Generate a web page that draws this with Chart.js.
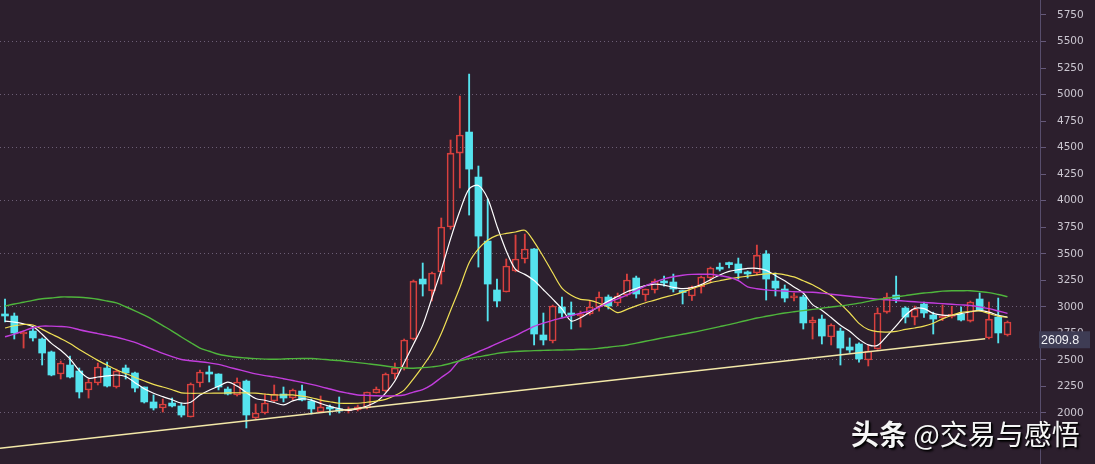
<!DOCTYPE html>
<html><head><meta charset="utf-8">
<script src="https://cdn.jsdelivr.net/npm/chart.js@4.4.1/dist/chart.umd.min.js"></script>
<style>
html,body{margin:0;padding:0;background:#2c1f2d;overflow:hidden;}
#wrap{position:relative;width:1095px;height:464px;}
canvas{display:block;}
#wm{position:absolute;left:851px;top:415px;font-family:"Noto Sans CJK SC";font-size:28px;line-height:36px;color:#f6f6f6;white-space:nowrap;
text-shadow:1px 1px 1px #000,2px 2px 2px rgba(0,0,0,.85);}
#wm b{font-weight:700}
</style></head>
<body><div id="wrap"><canvas id="c" width="1095" height="464"></canvas><div id="wm"><b>头条</b> @交易与感悟</div></div>
<script>
// Monthly candles, 2011-04 .. 2020-04 (index 0..108)
const opens = [2933,2914,2744,2772,2697,2575,2367,2452,2396,2217,
2283,2424,2245,2424,2377,2245,2104,2047,2094,2066,
1962,2283,2377,2367,2226,2170,2301,1953,2000,2113,
2179,2141,2207,2113,2009,2057,2038,2019,2028,2047,
2188,2207,2367,2424,2697,3262,3150,3328,3752,4449,
4647,4223,3620,3159,3140,3338,3451,3545,2735,2678,
2999,2942,2914,2933,2999,3093,3036,3112,3272,3112,
3159,3243,3234,3145,3102,3187,3272,3370,3408,3404,
3319,3319,3498,3243,3168,3085,3093,2848,2885,2716,
2772,2622,2650,2499,2603,2951,3111,2989,2904,3027,
2923,2895,2910,2933,2866,3074,2707,2904,2735];
const highs = [3074,2942,2772,2810,2707,2584,2490,2537,2424,2320,
2471,2480,2414,2452,2386,2245,2170,2132,2141,2094,
2283,2405,2443,2370,2245,2330,2311,2085,2179,2264,
2245,2226,2264,2132,2160,2075,2151,2057,2075,2198,
2245,2377,2471,2697,3253,3413,3328,3837,4572,4986,
5193,4327,4016,3262,3451,3677,3686,3550,2942,3017,
3093,3046,2960,3055,3140,3112,3130,3309,3290,3168,
3262,3290,3309,3155,3196,3290,3375,3413,3423,3460,
3338,3582,3530,3319,3206,3130,3110,2904,2923,2840,
2800,2707,2660,2640,2990,3130,3290,3001,3008,3046,
2950,3018,3005,2999,3055,3131,3046,3083,2867];
const lows = [2857,2697,2612,2678,2452,2350,2320,2330,2141,2141,
2264,2245,2235,2320,2198,2094,2028,2009,2057,1962,
1962,2245,2292,2217,2170,2160,1859,1945,1990,2104,
2104,2122,2113,1990,2009,1981,2000,2000,2019,2038,
2188,2198,2320,2405,2688,3102,3055,3215,3732,4120,
3865,3375,2867,2999,3140,3330,3413,2641,2641,2660,
2904,2791,2810,2923,2960,2980,3010,3100,3083,3055,
3130,3196,3140,3027,3060,3130,3230,3338,3366,3262,
3272,3300,3064,3102,3046,3055,2791,2697,2650,2641,
2452,2570,2480,2443,2600,2940,3040,2848,2830,2900,
2744,2870,2895,2867,2857,2961,2697,2660,2725];
const closes = [2914,2754,2763,2707,2565,2358,2471,2339,2198,2292,
2433,2254,2396,2377,2235,2104,2047,2085,2066,1981,
2273,2386,2367,2245,2179,2292,1981,2000,2094,2179,
2141,2217,2122,2038,2057,2038,2019,2038,2057,2198,
2226,2367,2424,2688,3243,3215,3319,3752,4449,4619,
4298,3667,3215,3055,3385,3451,3545,2744,2688,3008,
2942,2923,2933,2999,3093,3008,3102,3253,3121,3168,
3243,3225,3168,3135,3187,3281,3366,3355,3398,3319,
3310,3488,3262,3177,3083,3100,2848,2876,2725,2829,
2612,2593,2509,2584,2942,3093,3074,2904,2980,2942,
2885,2910,2930,2876,3046,2970,2885,2754,2857];
// moving-average lines
const ma5 = [2865,2856,2840,2814,2742,2656,2591,2510,2400,2329,
2339,2350,2358,2344,2286,2228,2186,2154,2125,2094,
2101,2169,2215,2252,2291,2254,2193,2137,2120,2099,
2076,2114,2134,2122,2090,2063,2041,2024,2041,2066,
2105,2187,2301,2474,2647,2828,3086,3348,3641,3903,
4111,4144,4021,3761,3527,3352,3306,3248,3161,3073,
2981,2867,2897,2950,3003,3054,3098,3142,3173,3200,
3214,3205,3184,3172,3181,3209,3256,3300,3334,3350,
3362,3363,3344,3295,3246,3188,3130,3021,2968,2899,
2827,2770,2695,2642,2637,2725,2821,2921,2986,2983,
2939,2922,2921,2936,2954,2967,2950,2921,2902];
const ma10 = [2801,2822,2834,2829,2788,2744,2701,2655,2599,2547,
2496,2451,2408,2371,2335,2302,2270,2245,2219,2190,
2186,2186,2186,2187,2189,2191,2189,2187,2179,2170,
2170,2170,2159,2144,2122,2106,2092,2091,2092,2101,
2112,2129,2165,2216,2322,2440,2570,2748,2965,3182,
3416,3546,3627,3673,3692,3705,3721,3613,3472,3321,
3177,3110,3071,3061,3034,2996,2946,2976,3009,3039,
3063,3090,3112,3139,3171,3199,3229,3246,3263,3277,
3290,3302,3310,3315,3302,3282,3246,3209,3158,3107,
3028,2942,2844,2786,2766,2762,2769,2787,2801,2818,
2846,2887,2921,2948,2957,2961,2937,2912,2902];
const ma20 = [2718,2743,2773,2803,2818,2818,2815,2807,2784,2765,
2748,2731,2714,2691,2665,2631,2596,2562,2531,2504,
2492,2483,2472,2458,2434,2412,2390,2368,2352,2340,
2323,2306,2289,2270,2249,2226,2203,2186,2170,2166,
2162,2160,2162,2170,2197,2221,2268,2334,2399,2497,
2537,2577,2613,2654,2691,2729,2774,2816,2847,2873,
2895,2918,2940,2962,2997,3040,3076,3111,3154,3198,
3233,3263,3284,3298,3306,3307,3307,3294,3279,3247,
3189,3171,3160,3153,3149,3143,3140,3137,3129,3119,
3109,3100,3091,3082,3073,3067,3060,3054,3048,3042,
3036,3030,3024,3019,3013,3000,2983,2961,2939];
const ma60 = [3008,3027,3043,3061,3076,3084,3093,3093,3091,3083,
3072,3055,3037,3001,2962,2921,2876,2824,2772,2716,
2663,2612,2582,2553,2537,2525,2518,2512,2508,2506,
2509,2512,2514,2513,2508,2500,2494,2484,2475,2465,
2455,2443,2430,2425,2422,2427,2435,2446,2467,2492,
2514,2530,2544,2562,2573,2579,2584,2588,2590,2592,
2594,2596,2600,2602,2610,2620,2630,2641,2658,2676,
2693,2710,2726,2742,2758,2776,2795,2814,2833,2854,
2874,2895,2911,2927,2942,2954,2965,2976,2987,2999,
3009,3021,3035,3052,3068,3081,3094,3106,3119,3130,
3138,3148,3152,3152,3152,3144,3134,3116,3096];
// support trend line (index, value)
const trendX = [-0.54, 105.6];
const trendY = [1667, 2700];
// price tag
const tagText = '2609.8';
const tagLevel = 2690;
// axis ticks
const yTickStep = 250, yGridStep = 500, yLabelMin = 2000;

const UP = '#d8403e', DOWN = '#55e3ee';
const bodyUp = [], bodyDown = [], wickUpHi = [], wickUpLo = [], wickDown = [];
closes.forEach((c, i) => {
  const o = opens[i];
  if (c >= o) {
    bodyUp.push({x: i, y: [o, c]});
    wickUpHi.push({x: i, y: [c, highs[i]]});
    wickUpLo.push({x: i, y: [lows[i], o]});
  } else {
    bodyDown.push({x: i, y: [c, o]});
    wickDown.push({x: i, y: [lows[i], highs[i]]});
  }
});
const pts = arr => arr.map((v, i) => ({x: i, y: v}));
const wickDs = (data, color) => ({type: 'bar', data, backgroundColor: color, borderWidth: 0, barThickness: 1.2, grouped: false, order: 6});
const lineDs = (arr, color, w) => ({type: 'line', data: pts(arr), borderColor: color, borderWidth: w, pointRadius: 0, tension: 0.3, fill: false, order: 2});

const priceTag = {
  id: 'priceTag',
  afterDraw(chart) {
    const {ctx} = chart, y = chart.scales.y;
    const py = y.getPixelForValue(tagLevel);
    ctx.save();
    ctx.fillStyle = '#3e3c54';
    ctx.fillRect(y.left - 1, py - 8.5, 51, 17);
    ctx.fillStyle = '#f2f2f6';
    ctx.font = '12.5px "Liberation Sans"';
    ctx.textBaseline = 'middle';
    ctx.textAlign = 'left';
    ctx.fillText(tagText, y.left + 1, py + 0.5);
    ctx.restore();
  }
};

new Chart(document.getElementById('c'), {
  type: 'bar',
  data: {
    datasets: [
      wickDs(wickDown, DOWN),
      wickDs(wickUpHi, UP),
      wickDs(wickUpLo, UP),
      {type: 'bar', data: bodyDown, backgroundColor: DOWN, borderWidth: 0, barThickness: 7, minBarLength: 2, grouped: false, order: 5},
      {type: 'bar', data: bodyUp, backgroundColor: 'rgba(0,0,0,0)', borderColor: UP, borderWidth: 1, borderSkipped: false, barThickness: 7, minBarLength: 2, grouped: false, order: 5},
      lineDs(ma60, '#4fb53c', 1.4),
      lineDs(ma20, '#c23ddc', 1.4),
      lineDs(ma10, '#f0e055', 1.2),
      lineDs(ma5, '#ffffff', 1.2),
      {type: 'line', data: trendX.map((x, i) => ({x, y: trendY[i]})), borderColor: '#f3e8a8', borderWidth: 1.5, pointRadius: 0, order: 1}
    ]
  },
  options: {
    responsive: false,
    animation: false,
    events: [],
    layout: {padding: 0, autoPadding: false},
    plugins: {legend: {display: false}, tooltip: {enabled: false}},
    scales: {
      x: {type: 'linear', min: -0.54, max: 111.5, offset: false, display: false, grid: {offset: false}},
      y: {
        position: 'right', min: 1519.5, max: 5891, beginAtZero: false,
        afterFit(s) { s.width = 55; s.paddingTop = 0; s.paddingBottom = 0; },
        ticks: {
          stepSize: yTickStep, includeBounds: false, padding: 11, color: '#cbc6d0',
          font: {family: 'DejaVu Sans', size: 10.5},
          callback: v => v >= yLabelMin ? String(v) : ''
        },
        grid: {
          color: c => (c.tick && c.tick.value % yGridStep === 0) ? 'rgba(125,110,135,0.8)' : 'rgba(0,0,0,0)',
          lineWidth: 1, drawTicks: true, tickLength: 6, tickColor: '#65597a', tickWidth: 1
        },
        border: {display: true, color: '#574d6c', width: 1, dash: [1, 3]}
      }
    }
  },
  plugins: [priceTag]
});
</script>
</body></html>
